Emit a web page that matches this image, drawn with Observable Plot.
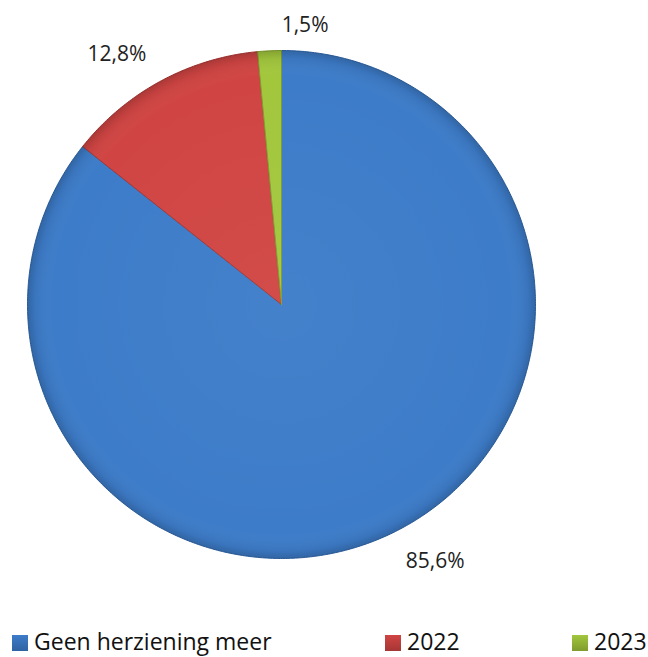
<!DOCTYPE html>
<html>
<head>
<meta charset="utf-8">
<script src="https://cdn.jsdelivr.net/npm/d3@7"></script>
<script src="https://cdn.jsdelivr.net/npm/@observablehq/plot@0.6"></script>
<style>
  html, body { margin: 0; padding: 0; background: #fff; }
  #wrap { position: relative; width: 648px; height: 657px; overflow: hidden; font-family: "Open Sans", sans-serif; }
  #legend { position: absolute; left: 0; top: 0; width: 648px; height: 657px; font-size: 23px; color: #111; pointer-events: none; }
  .sw { position: absolute; top: 635px; width: 16px; height: 16px; }
  .lt { position: absolute; top: 630px; line-height: 23px; white-space: nowrap; }
</style>
</head>
<body>
<div id="wrap"><div id="chart"></div><div id="legend"></div></div>
<script>
const categories = ["Geen herziening meer", "2022", "2023"];
const values = [85.6, 12.8, 1.5];
const labels = ["85,6%", "12,8%", "1,5%"];
const colors = ["#3d7cc9", "#d04543", "#a2c73d"];
const strokes = ["#2f63a3", "#a53634", "#7f9c2e"];

const total = d3.sum(values);
// slice outlines, clockwise from 12 o'clock
let acc = 0;
const slices = categories.map((c, i) => {
  const a0 = acc / total * 2 * Math.PI;
  acc += values[i];
  const a1 = acc / total * 2 * Math.PI;
  const n = Math.max(2, Math.ceil((a1 - a0) / 0.01));
  const pts = [{x: 0, y: 0}];
  for (let k = 0; k <= n; k++) {
    const a = a0 + (a1 - a0) * k / n;
    pts.push({x: Math.sin(a), y: Math.cos(a)});
  }
  pts.push({x: 0, y: 0});
  return {category: c, i, a0, a1, mid: (a0 + a1) / 2, pts};
});

const W = 648, H = 628, cx = 281, cy = 304, R = 254;
const labelR = 1.12;
const offs = [[30, 1], [-29, 0], [37, 5]];
const labelData = slices.map(s => ({
  x: labelR * Math.sin(s.mid), y: labelR * Math.cos(s.mid), text: labels[s.i], i: s.i
}));

const marks = [];
slices.forEach(s => {
  marks.push(Plot.line(s.pts, {x: "x", y: "y", fill: colors[s.i], stroke: strokes[s.i], strokeWidth: 1, curve: "linear"}));
});
const ring = d3.range(0, 2 * Math.PI + 0.01, 0.01).map(a => ({x: Math.sin(a), y: Math.cos(a)}));
marks.push(Plot.line(ring, {x: "x", y: "y", fill: "url(#shade)", stroke: "none"}));
labelData.forEach(d => {
  marks.push(Plot.text([d], {x: "x", y: "y", text: "text", dx: offs[d.i][0], dy: offs[d.i][1], fontSize: 21, fill: "#222", fontFamily: "Open Sans"}));
});

const plot = Plot.plot({
  width: W, height: H,
  margin: 0,
  x: {domain: [-cx / R, (W - cx) / R], axis: null},
  y: {domain: [-(H - cy) / R, cy / R], axis: null},
  style: {background: "transparent", overflow: "visible"},
  marks
});
const defs = d3.select(plot).insert("defs", ":first-child");
const g = defs.append("radialGradient").attr("id", "shade").attr("cx", "50%").attr("cy", "50%").attr("r", "50%");
g.append("stop").attr("offset", "0%").attr("stop-color", "#fff").attr("stop-opacity", 0.04);
g.append("stop").attr("offset", "90%").attr("stop-color", "#fff").attr("stop-opacity", 0);
g.append("stop").attr("offset", "97%").attr("stop-color", "#000").attr("stop-opacity", 0.06);
g.append("stop").attr("offset", "100%").attr("stop-color", "#000").attr("stop-opacity", 0.18);
document.getElementById("chart").appendChild(plot);

const lx = [12, 385, 572];
const legend = d3.select("#legend");
categories.forEach((c, i) => {
  legend.append("div").attr("class", "sw").style("left", lx[i] + "px")
    .style("background", `linear-gradient(${colors[i]}, ${strokes[i]})`);
  legend.append("span").attr("class", "lt").style("left", (lx[i] + 22) + "px").text(c);
});
</script>
</body>
</html>
